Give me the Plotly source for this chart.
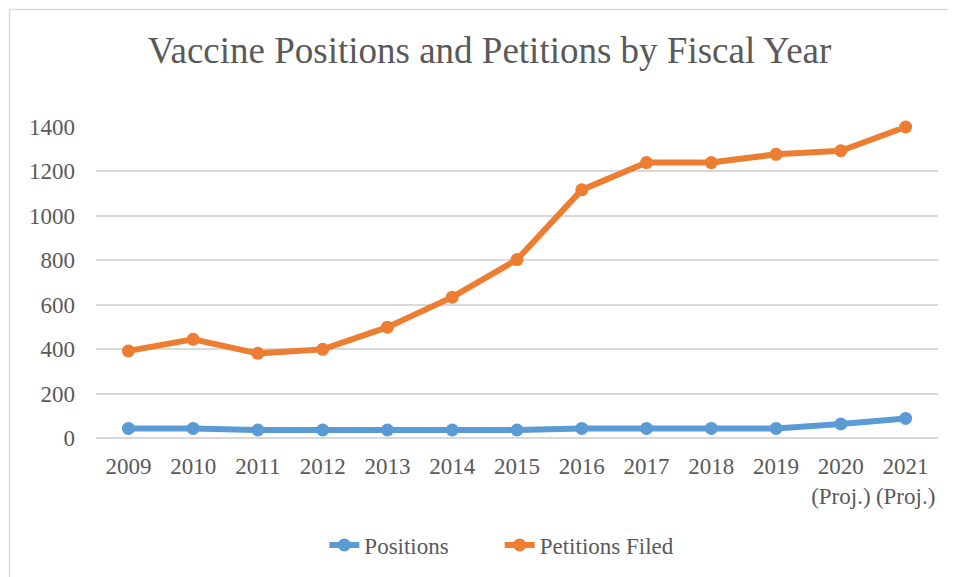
import plotly.graph_objects as go

# Data
years = ["2009", "2010", "2011", "2012", "2013", "2014", "2015",
         "2016", "2017", "2018", "2019", "2020<br>(Proj.)", "2021<br>(Proj.)"]
positions = [43, 43, 36, 36, 36, 36, 36, 43, 43, 43, 43, 63, 88]
petitions = [392, 444, 381, 399, 499, 634, 803, 1117, 1240, 1240, 1277, 1293, 1400]

blue = "#5B9BD5"
orange = "#ED7D31"
grey_text = "#595959"
grid = "#D9D9D9"
serif = "Times New Roman, Liberation Serif, serif"

# the page body keeps its default 8px margin, so the figure is 8px smaller
W, H = 948, 569
left, right, top, bottom = 88, 18, 119, 138
plot_w = W - left - right
plot_h = H - top - bottom

fig = go.Figure()
fig.add_trace(go.Scatter(
    x=years, y=positions, name="Positions" + "&nbsp;" * 8, mode="lines+markers",
    line=dict(color=blue, width=6), marker=dict(size=13, color=blue),
    cliponaxis=False,
))
fig.add_trace(go.Scatter(
    x=years, y=petitions, name="Petitions Filed", mode="lines+markers",
    line=dict(color=orange, width=6), marker=dict(size=13, color=orange),
    cliponaxis=False,
))

fig.update_layout(
    width=W, height=H,
    paper_bgcolor="white", plot_bgcolor="white",
    margin=dict(l=left, r=right, t=top, b=bottom),
    font=dict(family=serif, size=23, color=grey_text),
    title=dict(
        text="Vaccine Positions and Petitions by Fiscal Year",
        font=dict(family=serif, size=37, color=grey_text),
        x=0.508, xanchor="center", y=0.926, yanchor="middle",
    ),
    legend=dict(
        orientation="h", x=0.482, xanchor="center",
        y=-(545 - 8 - (H - bottom)) / plot_h, yanchor="middle",
        font=dict(size=23),
    ),
    showlegend=True,
    shapes=[
        # chart border (only top and left fall inside the window)
        dict(type="line", xref="paper", yref="paper",
             x0=(1.5 - left) / plot_w, x1=1.2,
             y0=1 + (top - 1) / plot_h, y1=1 + (top - 1) / plot_h,
             line=dict(color=grid, width=1.5)),
        dict(type="line", xref="paper", yref="paper",
             x0=(1.5 - left) / plot_w, x1=(1.5 - left) / plot_w,
             y0=-0.6, y1=1 + (top - 1) / plot_h,
             line=dict(color=grid, width=1.5)),
    ],
)

fig.update_xaxes(
    type="category", range=[-0.5, 12.5],
    showgrid=False, showline=False, ticks="",
    tickfont=dict(size=23, color=grey_text),
    ticklabelstandoff=12,
)
fig.update_yaxes(
    range=[0, 1400], dtick=200, tick0=0,
    showgrid=True, gridcolor=grid, gridwidth=1.5,
    zeroline=True, zerolinecolor=grid, zerolinewidth=1.5,
    showline=False, ticks="",
    tickfont=dict(size=23, color=grey_text),
    ticklabelstandoff=20,
)

fig.write_html("out.html")
